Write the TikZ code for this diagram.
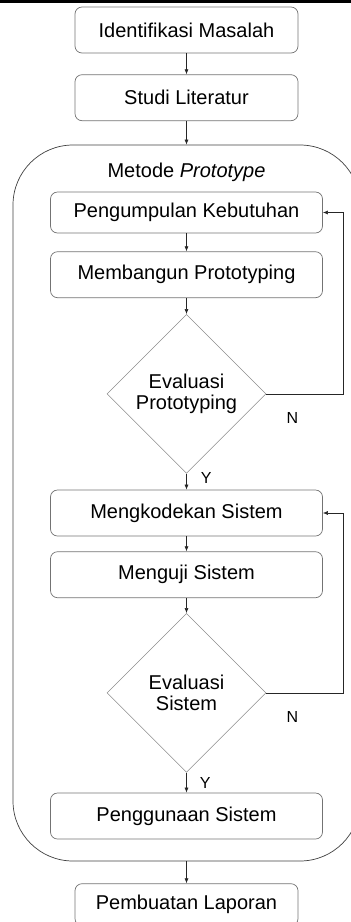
\documentclass[tikz,border=0pt]{standalone}
\usepackage{fontspec}
\setmainfont{Liberation Sans}
\usetikzlibrary{arrows.meta,positioning,shapes.geometric}
\tikzstyle{tahap}=[
	rectangle,
	rounded corners=7pt,
	draw=black!55,
	line width=0.7pt,
	minimum height=46pt,
	inner sep=0pt,
	font=\fontsize{20}{23}\selectfont
]
\tikzstyle{luar}=[tahap, minimum width=223pt]
\tikzstyle{dalam}=[tahap, minimum width=272pt]
\tikzstyle{wadah}=[
	rectangle,
	rounded corners=60pt,
	draw=black!75,
	line width=0.7pt,
	minimum width=347pt,
	minimum height=716pt
]
\tikzstyle{keputusan}=[
	diamond,
	aspect=1,
	draw=black!45,
	line width=0.6pt,
	minimum width=159pt,
	minimum height=159pt,
	inner sep=0pt,
	align=center,
	font=\fontsize{20}{21.5}\selectfont
]
\tikzstyle{alur}=[
	-{Latex[length=5pt,width=4pt]},
	line width=0.6pt,
	draw=black!85
]
\tikzstyle{ket}=[inner sep=0pt, font=\fontsize{16}{18}\selectfont]

\begin{document}
\begin{tikzpicture}[x=1pt, y=1pt]
\useasboundingbox (0,0) rectangle (351,-922);
\draw [line width=3pt] (0,-1.5) -- (351,-1.5);
% tahap awal
\node [luar] (identifikasi) at (186.5,-30) {Identifikasi Masalah};
\node [luar] (studi) [below=21pt of identifikasi] {Studi Literatur};
% metode prototype
\node [wadah] (metode) at (186.5,-503) {};
\node [font=\fontsize{20}{23}\selectfont, inner sep=0pt] (judul) at (186.5,-172) {Metode \textit{Prototype}};
\node [dalam, minimum height=41pt] (kebutuhan) at (186.5,-212.5) {Pengumpulan Kebutuhan};
\node [dalam] (membangun) [below=18pt of kebutuhan] {Membangun Prototyping};
\node [keputusan] (evalproto) [below=16pt of membangun] {Evaluasi\\Prototyping};
\node [dalam] (mengkode) [below=16pt of evalproto] {Mengkodekan Sistem};
\node [dalam] (menguji) [below=15pt of mengkode] {Menguji Sistem};
\node [keputusan] (evalsistem) [below=15pt of menguji] {Evaluasi\\Sistem};
\node [dalam] (penggunaan) [below=20pt of evalsistem] {Penggunaan Sistem};
% tahap akhir
\node [luar, minimum height=42pt] (laporan) [below=44pt of penggunaan] {Pembuatan Laporan};

\draw [alur] (identifikasi) -- (studi);
\draw [alur] (studi) -- (metode);
\draw [alur] (kebutuhan) -- (membangun);
\draw [alur] (membangun) -- (evalproto);
\draw [alur] (evalproto) -- node [ket, near start, right=14pt] {Y} (mengkode);
\draw [alur] (evalproto.east) -- ++(77,0) |- (kebutuhan.east);
\node [ket] at ([xshift=26pt,yshift=-24pt]evalproto.east) {N};
\draw [alur] (mengkode) -- (menguji);
\draw [alur] (menguji) -- (evalsistem);
\draw [alur] (evalsistem) -- node [ket, midway, right=13pt] {Y} (penggunaan);
\draw [alur] (evalsistem.east) -- ++(77,0) |- (mengkode.east);
\node [ket] at ([xshift=26pt,yshift=-24pt]evalsistem.east) {N};
\draw [alur] (metode) -- (laporan);
\end{tikzpicture}
\end{document}
